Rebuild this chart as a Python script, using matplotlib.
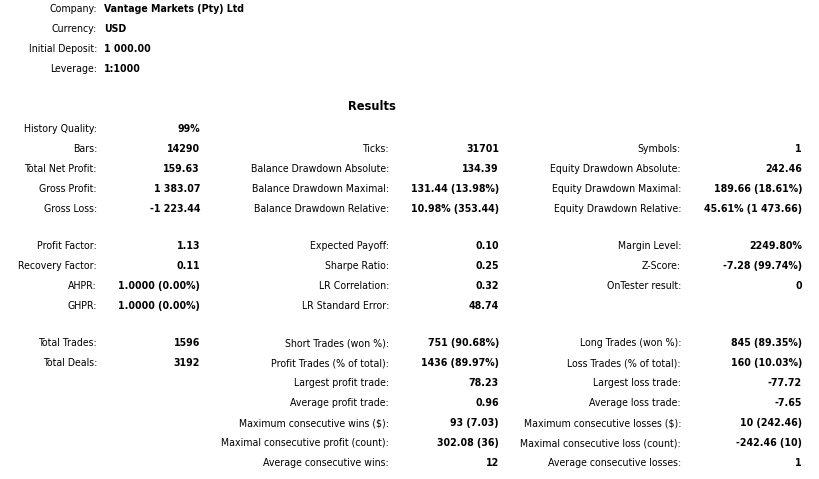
import matplotlib
matplotlib.use("Agg")
import matplotlib.pyplot as plt

# header block
header_labels = ["Company:", "Currency:", "Initial Deposit:", "Leverage:"]
header_values = ["Vantage Markets (Pty) Ltd", "USD", "1 000.00", "1:1000"]

title = "Results"

# results table, one list per column (None = empty cell)
col1_labels = ["History Quality:", "Bars:", "Total Net Profit:", "Gross Profit:", "Gross Loss:",
               "Profit Factor:", "Recovery Factor:", "AHPR:", "GHPR:",
               "Total Trades:", "Total Deals:"]
col1_values = ["99%", "14290", "159.63", "1 383.07", "-1 223.44",
               "1.13", "0.11", "1.0000 (0.00%)", "1.0000 (0.00%)",
               "1596", "3192"]

col2_labels = [None, "Ticks:", "Balance Drawdown Absolute:", "Balance Drawdown Maximal:",
               "Balance Drawdown Relative:",
               "Expected Payoff:", "Sharpe Ratio:", "LR Correlation:", "LR Standard Error:",
               "Short Trades (won %):", "Profit Trades (% of total):", "Largest profit trade:",
               "Average profit trade:", "Maximum consecutive wins ($):",
               "Maximal consecutive profit (count):", "Average consecutive wins:"]
col2_values = [None, "31701", "134.39", "131.44 (13.98%)", "10.98% (353.44)",
               "0.10", "0.25", "0.32", "48.74",
               "751 (90.68%)", "1436 (89.97%)", "78.23", "0.96", "93 (7.03)",
               "302.08 (36)", "12"]

col3_labels = [None, "Symbols:", "Equity Drawdown Absolute:", "Equity Drawdown Maximal:",
               "Equity Drawdown Relative:",
               "Margin Level:", "Z-Score:", "OnTester result:", None,
               "Long Trades (won %):", "Loss Trades (% of total):", "Largest loss trade:",
               "Average loss trade:", "Maximum consecutive losses ($):",
               "Maximal consecutive loss (count):", "Average consecutive losses:"]
col3_values = [None, "1", "242.46", "189.66 (18.61%)", "45.61% (1 473.66)",
               "2249.80%", "-7.28 (99.74%)", "0", None,
               "845 (89.35%)", "160 (10.03%)", "-77.72", "-7.65", "10 (242.46)",
               "-242.46 (10)", "1"]

W, H = 819, 479
fig = plt.figure(figsize=(W / 100, H / 100), dpi=100)
fig.patch.set_facecolor("white")

FONT = dict(family="DejaVu Sans", stretch="condensed", size=7.6)


def put(x, y, s, ha, bold=False, size=None):
    if s is None:
        return
    kw = dict(FONT)
    if size:
        kw["size"] = size
    fig.text(x / W, 1 - y / H, s, ha=ha, va="center", color="black",
             fontweight="bold" if bold else "normal", **kw)


# header rows
for i, (lab, val) in enumerate(zip(header_labels, header_values)):
    y = 9 + 20 * i
    put(97, y, lab, "right")
    put(104, y, val, "left", bold=True)

put(372, 107, title, "center", bold=True, size=9.2)

# row positions: three groups separated by gaps
row_y = ([129 + 20 * i for i in range(5)] + [246 + 20 * i for i in range(4)]
         + [343 + 20 * i for i in range(7)])

columns = [
    (col1_labels, col1_values, 97, 200),
    (col2_labels, col2_values, 389, 499),
    (col3_labels, col3_values, 681, 802),
]
for labels, values, lx, vx in columns:
    for i, (lab, val) in enumerate(zip(labels, values)):
        put(lx, row_y[i], lab, "right")
        put(vx, row_y[i], val, "right", bold=True)

fig.savefig("out.png", dpi=100, facecolor="white")
